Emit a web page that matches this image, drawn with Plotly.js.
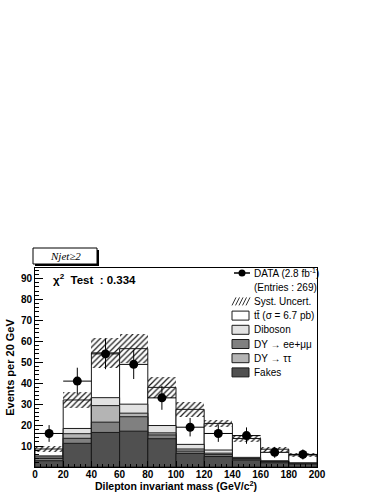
<!DOCTYPE html>
<html>
<head>
<meta charset="utf-8">
<script src="https://cdn.plot.ly/plotly-3.0.1.min.js"></script>
<style>
  html, body { margin: 0; padding: 0; background: #fff; }
  #chart { width: 380px; height: 492px; }
</style>
</head>
<body>
<div id="chart"></div>
<script>
// bins of 20 GeV, 0..200
const binCenters = [10, 30, 50, 70, 90, 110, 130, 150, 170, 190];

// per-sample expectations (stacked bottom -> top)
const fakes   = [3.0, 11.3, 16.5, 17.1, 13.5, 6.5, 5.0, 3.3, 2.0, 1.4];
const dyEEMM  = [1.1, 2.4, 4.9, 6.9, 1.8, 1.1, 0.9, 0.5, 0.4, 0.2];
const dyTauTau = [0.7, 2.2, 7.9, 1.7, 1.0, 1.0, 0.7, 0.3, 0.2, 0.2];
const diboson = [0.5, 2.5, 3.8, 4.3, 3.5, 2.2, 1.5, 0.5, 0.4, 0.2];
const ttbar   = [3.3, 13.6, 21.4, 26.5, 18.2, 16.7, 12.7, 9.0, 5.5, 3.7];
const systErr = [1.2, 3.8, 7.0, 7.0, 5.0, 3.5, 1.7, 1.6, 1.2, 0.8];

// data
const dataCounts = [16, 41, 54, 49, 33, 19, 16, 15, 7, 6];
const dataErr    = [4.0, 6.4, 7.3, 7.0, 5.7, 4.4, 4.0, 3.9, 2.6, 2.4];

const yTicks = [10, 20, 30, 40, 50, 60, 70, 80, 90];
const xTicks = [0, 20, 40, 60, 80, 100, 120, 140, 160, 180, 200];

const legendLabels = [
  "DATA (2.8 fb<sup>-1</sup>)",
  "(Entries : 269)",
  "Syst. Uncert.",
  "tt\u0304 (\u03c3 = 6.7 pb)",
  "Diboson",
  "DY \u2192 ee+\u03bc\u03bc",
  "DY \u2192 \u03c4\u03c4",
  "Fakes"
];

const cFakes = "#505050", cEE = "#808080", cTT = "#b4b4b4", cDB = "#e2e2e2", cTop = "#ffffff";

// cumulative tops
function add(a, b) { return a.map((v, i) => v + b[i]); }
const top1 = fakes;
const top2 = add(top1, dyEEMM);
const top3 = add(top2, dyTauTau);
const top4 = add(top3, diboson);
const total = add(top4, ttbar);

const outline = { color: "#1a1a1a", width: 1 };
function stackBar(y, color) {
  return { type: "bar", x: binCenters, y: y, width: 20,
           marker: { color: color, line: outline }, hoverinfo: "skip" };
}

const traces = [
  stackBar(total, cTop),
  stackBar(top4, cDB),
  stackBar(top3, cTT),
  stackBar(top2, cEE),
  stackBar(top1, cFakes),
  {
    type: "bar", x: binCenters, width: 20,
    base: total.map((v, i) => v - systErr[i]),
    y: systErr.map(e => 2 * e),
    marker: { color: "rgba(0,0,0,0)", line: { width: 0 },
              pattern: { shape: "/", fgcolor: "#1a1a1a", bgcolor: "rgba(0,0,0,0)", size: 4, solidity: 0.3 } },
    hoverinfo: "skip"
  },
  {
    type: "scatter", mode: "markers", x: binCenters, y: dataCounts,
    marker: { color: "#000", size: 9 },
    error_y: { type: "data", array: dataErr, width: 0, thickness: 1, color: "#000" },
    error_x: { type: "constant", value: 10, width: 0, thickness: 1, color: "#000" },
    hoverinfo: "skip"
  }
];

// pixel -> paper helpers for the decorations
const L = 35, R = 317, T = 268, B = 467;
const px = x => (x - L) / (R - L);
const py = y => (B - y) / (B - T);

const shapes = [];
const annotations = [];

// Njet box with shadow
shapes.push({ type: "rect", xref: "paper", yref: "paper", x0: px(35), x1: px(99), y0: py(266), y1: py(250),
              fillcolor: "#000", line: { width: 0 } });
shapes.push({ type: "rect", xref: "paper", yref: "paper", x0: px(33), x1: px(97), y0: py(264), y1: py(248),
              fillcolor: "#fff", line: { color: "#000", width: 1 } });
annotations.push({ xref: "paper", yref: "paper", x: px(65), y: py(256), xanchor: "center", yanchor: "middle",
                   text: "<i>Njet\u22652</i>", showarrow: false,
                   font: { family: "Liberation Serif", size: 11, color: "#000" } });

annotations.push({ xref: "paper", yref: "paper", x: px(51), y: py(279), xanchor: "left", yanchor: "middle",
                   text: "<b>\u03c7<sup>2</sup>  Test  : 0.334</b>", showarrow: false,
                   font: { family: "Liberation Sans", size: 11.5, color: "#000" } });

// manual legend
const rowY0 = 273, rowStep = 14.2, boxL = 232, boxR = 249, textX = 252;
legendLabels.forEach((lab, i) => {
  const yc = rowY0 + i * rowStep;
  annotations.push({ xref: "paper", yref: "paper", x: px(textX), y: py(yc), xanchor: "left", yanchor: "middle",
                     text: lab, showarrow: false, font: { family: "Liberation Sans", size: 10, color: "#000" } });
  if (i === 0) {
    shapes.push({ type: "line", xref: "paper", yref: "paper", x0: px(234), x1: px(250), y0: py(yc), y1: py(yc),
                  line: { color: "#000", width: 1.5 } });
    shapes.push({ type: "circle", xref: "paper", yref: "paper", x0: px(238.5), x1: px(245.5), y0: py(yc + 3.5), y1: py(yc - 3.5),
                  fillcolor: "#000", line: { width: 0 } });
  } else if (i === 2) {
    for (let k = 0; k < 5; k++) {
      const xs = boxL + k * 3.5;
      shapes.push({ type: "line", xref: "paper", yref: "paper", x0: px(xs), x1: px(xs + 4), y0: py(yc + 4), y1: py(yc - 4),
                    line: { color: "#333", width: 1 } });
    }
  } else if (i >= 3) {
    const col = [cTop, cDB, cEE, cTT, cFakes][i - 3];
    shapes.push({ type: "rect", xref: "paper", yref: "paper", x0: px(boxL), x1: px(boxR), y0: py(yc + 4.5), y1: py(yc - 4.5),
                  fillcolor: col, line: { color: "#1a1a1a", width: 1 } });
  }
});

const tickFont = { family: "Liberation Sans", size: 10, color: "#000", weight: "bold" };

const layout = {
  width: 380,
  height: 492,
  margin: { l: L, r: 380 - R, t: T, b: 492 - B, pad: 0 },
  paper_bgcolor: "#fff",
  plot_bgcolor: "#fff",
  barmode: "overlay",
  bargap: 0,
  showlegend: false,
  font: { family: "Liberation Sans", color: "#000" },
  xaxis: {
    range: [0, 200],
    tickvals: xTicks,
    ticks: "inside", ticklen: 6, tickwidth: 1, tickcolor: "#000",
    minor: { dtick: 4, ticks: "inside", ticklen: 3, tickcolor: "#000" },
    showgrid: false, zeroline: false,
    showline: true, linecolor: "#000", linewidth: 1, mirror: true,
    tickfont: tickFont,
    ticklabelstandoff: -2,
    title: { text: "<b>Dilepton invariant mass (GeV/c<sup>2</sup>)</b>", font: { family: "Liberation Sans", size: 10.5 }, standoff: 1 },
    automargin: false
  },
  yaxis: {
    range: [0, 95],
    tickvals: yTicks,
    ticks: "inside", ticklen: 8, tickwidth: 1, tickcolor: "#000",
    minor: { dtick: 2, ticks: "inside", ticklen: 4, tickcolor: "#000" },
    showgrid: false, zeroline: false,
    showline: true, linecolor: "#000", linewidth: 1, mirror: true,
    tickfont: tickFont,
    title: { text: "<b>Events per 20 GeV</b>", font: { family: "Liberation Sans", size: 11 }, standoff: 4 },
    automargin: false
  },
  shapes: shapes,
  annotations: annotations
};

Plotly.newPlot("chart", traces, layout, { staticPlot: true, displayModeBar: false });
</script>
</body>
</html>
